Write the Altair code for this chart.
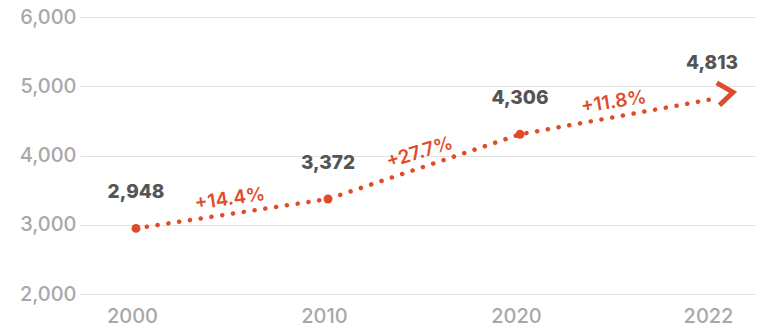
import altair as alt
import pandas as pd

years = ["2000", "2010", "2020", "2022"]
values = [2948, 3372, 4306, 4813]
y_ticks = [2000, 3000, 4000, 5000, 6000]

RED = "#e24b29"
DARK = "#555555"
GREY = "#a8a8a8"
FONT = "Inter"

idx = list(range(len(years)))
df = pd.DataFrame({"i": idx, "year": years, "value": values})
df["label"] = [f"{v:,}" for v in values]

seg_i = [k + 0.5 for k in range(len(values) - 1)]
seg_v = [(values[k] + values[k + 1]) / 2 for k in range(len(values) - 1)]
seg_lab = [f"+{(values[k + 1] / values[k] - 1) * 100:.1f}%" for k in range(len(values) - 1)]
seg = pd.DataFrame({"i": seg_i, "value": seg_v, "label": seg_lab, "seg": list(range(len(seg_i)))})

label_expr = "[" + ",".join(f"'{y}'" for y in years) + "][datum.value]"

x = alt.X(
    "i:Q",
    scale=alt.Scale(domain=[-0.2917, 3.224], nice=False, zero=False),
    axis=alt.Axis(
        values=idx, labelExpr=label_expr, title=None, grid=False, domain=False,
        ticks=False, labelFontSize=20, labelColor=GREY, labelFont=FONT,
        labelFontWeight=500, labelPadding=12, labelOffset=-4,
    ),
)
y = alt.Y(
    "value:Q",
    scale=alt.Scale(domain=[2000, 6000], nice=False, zero=False),
    axis=alt.Axis(
        values=y_ticks, format=",.0f", title=None, domain=False, ticks=False,
        labelFontSize=20, labelColor=GREY, labelFont=FONT, labelFontWeight=500,
        labelPadding=4, gridColor="#e2e2e2", gridWidth=1.2,
    ),
)

base = alt.Chart(df)

line = base.mark_line(
    color=RED, strokeWidth=4.5, strokeDash=[0.1, 10.8], strokeCap="round",
    interpolate="linear",
).encode(x=x, y=y)

dots = base.transform_filter(alt.datum.i < 3).mark_circle(
    color=RED, size=80, opacity=1
).encode(x=x, y=y)

arrow = base.transform_filter(alt.datum.i == 3).mark_point(
    shape="M-1,-0.75L0,0L-1,0.75", filled=False, stroke=RED, strokeWidth=5,
    size=900, angle=353, opacity=1, xOffset=21, yOffset=-7, strokeJoin="miter",
).encode(x=x, y=y)

vals = base.mark_text(
    font=FONT, fontSize=19, fontWeight=800, color=DARK, dy=-36,
).encode(x=x, y=y, text="label:N")

angles = [352, 343, 351]
pct_layers = []
for k, a in enumerate(angles):
    pct_layers.append(
        alt.Chart(seg).transform_filter(alt.datum.seg == k).mark_text(
            font=FONT, fontSize=19, fontWeight=600, color=RED, angle=a,
            dy=-15, baseline="middle",
        ).encode(x=x, y=y, text="label:N")
    )

chart = alt.layer(line, dots, arrow, vals, *pct_layers).properties(
    width=675, height=277,
    autosize=alt.AutoSizeParams(type="none"),
    padding={"left": 80, "top": 17, "right": 8, "bottom": 37},
).configure_view(stroke=None)

chart.save("out.html", embed_options={"renderer": "svg", "actions": False})
